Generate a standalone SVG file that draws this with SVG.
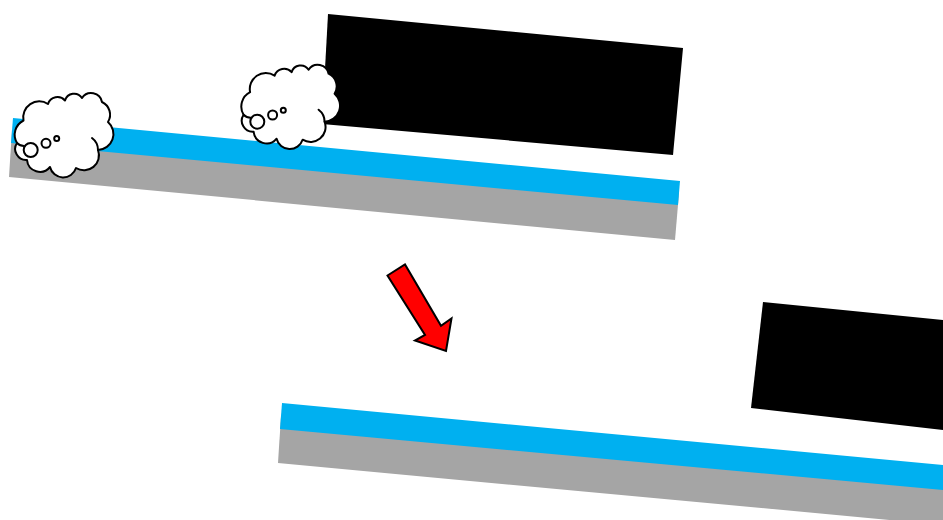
<svg xmlns="http://www.w3.org/2000/svg" width="943" height="520" viewBox="0 0 943 520">
<style>
.blue{fill:#00b0f0}.gray{fill:#a5a5a5}.black{fill:#000}
.cl{fill:#fff;stroke:#000;stroke-width:2;stroke-linejoin:round}
.ln{fill:none;stroke:#000;stroke-width:2;stroke-linecap:round}
</style>
<defs>
<g id="cloud">
<path class="cl" d="M17 143A16 16 0 0 1 23.500 120.500A16 16 0 0 1 48 104A10 10 0 0 1 65 100.500A9.500 9.500 0 0 1 82 98A11 11 0 0 1 102 102A14 14 0 0 1 108 122A16 16 0 0 1 98 150A15 15 0 0 1 76 168A13.500 13.500 0 0 1 50 167A13 13 0 0 1 27 160A11 11 0 0 1 17 143Z"/>
<path class="ln" d="M92 138C96 141 98 145 98 150"/>
<path class="ln" d="M17 143C19 145 22 146 24 146"/>
<circle class="cl" cx="30.700" cy="150" r="7"/>
<circle class="cl" cx="46" cy="143.300" r="4.500"/>
<circle class="cl" cx="56.700" cy="138.500" r="2.500"/>
</g>
</defs>
<g id="track-top">
<polygon class="gray" points="12,130 679,193 675,240 9,177"/>
<polygon class="blue" points="13,118 680,181 678,205 11,143"/>
</g>
<g id="block-top"><polygon class="black" points="328,14 683,48 673,155 322,124"/></g>
<g id="track-bottom">
<polygon class="gray" points="281,416 943,478 943,525 278,463"/>
<polygon class="blue" points="282,403 943,465 943,490 280,429"/>
</g>
<g id="block-bottom"><polygon class="black" points="763,302 943,320 943,430 751,408"/></g>
<g id="cloud-1"><use href="#cloud"/></g>
<g id="cloud-2"><use href="#cloud" transform="translate(226.600,-28.300)"/></g>
<g id="arrow"><polygon points="387.500,275.500 405,264.500 441,325.700 451.500,318.500 446,351 415,340.500 425,335" fill="#f00" stroke="#000" stroke-width="2"/></g>
</svg>
